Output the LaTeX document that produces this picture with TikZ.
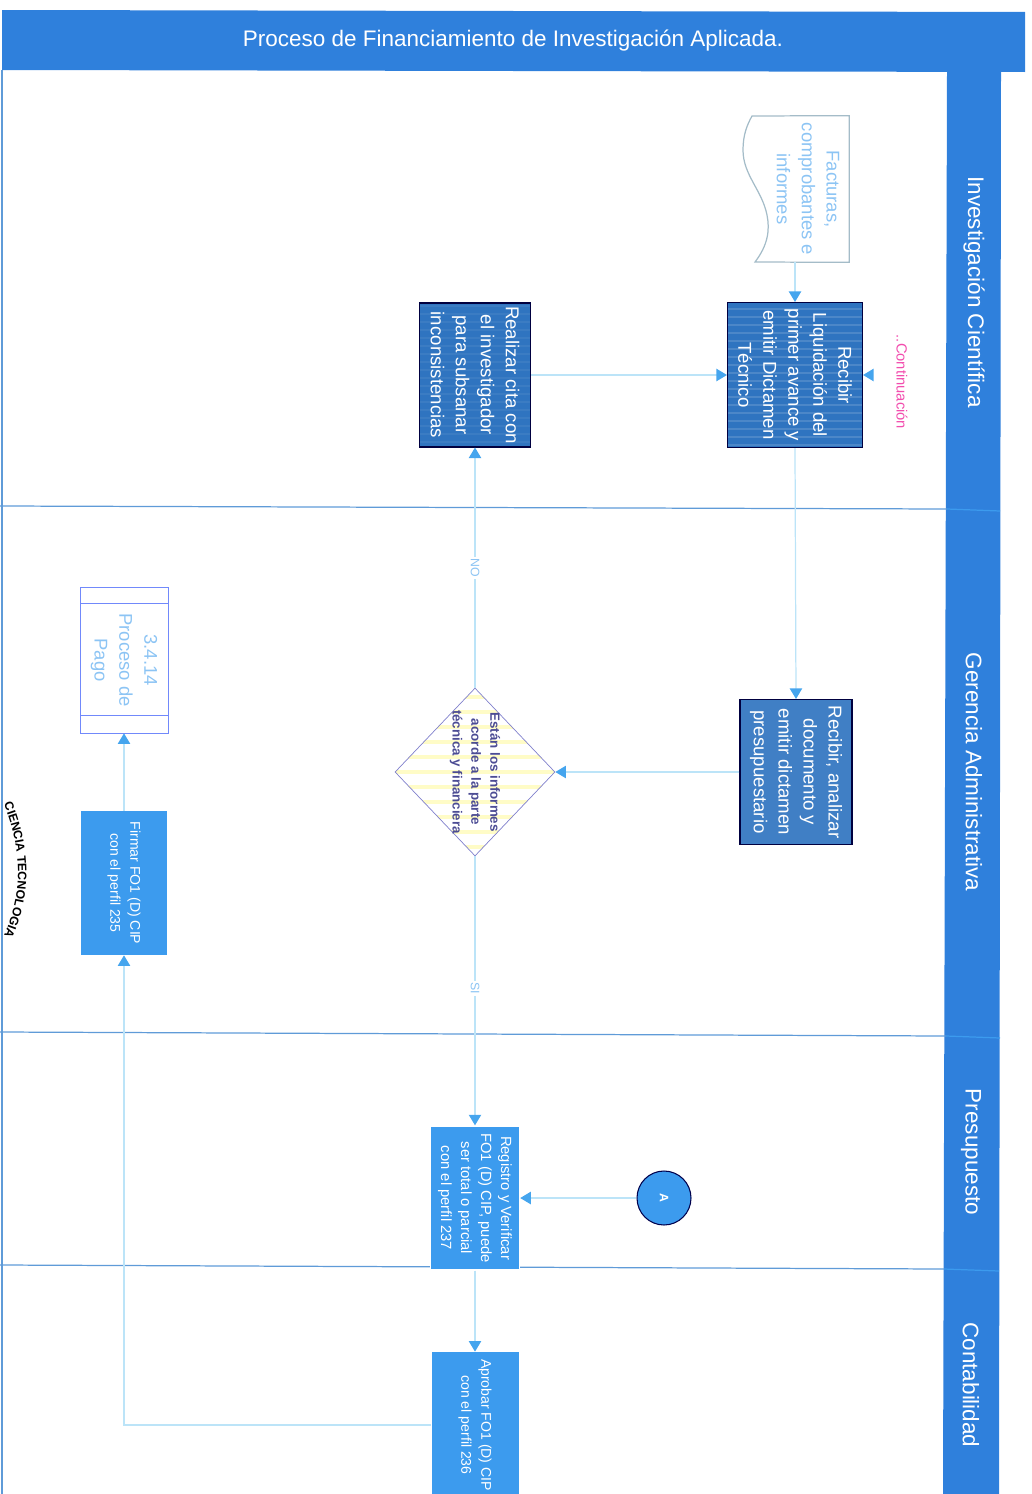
\documentclass[tikz,border=0pt]{standalone}
\usepackage{fontspec}
\setmainfont{Liberation Sans}
\usepackage{tikz}
\usetikzlibrary{shapes.geometric, arrows.meta, decorations.text}
\definecolor{banda}{HTML}{2F80DC}
\definecolor{azulcaja}{HTML}{3C9BEE}
\definecolor{cajaosc}{HTML}{2F74C0}
\definecolor{linea}{HTML}{BCE4F8}
\definecolor{punta}{HTML}{45A5EE}
\definecolor{carril}{HTML}{5F9BD8}
\definecolor{textoclaro}{HTML}{8CC4F4}

\begin{document}
\begin{tikzpicture}[
    x=0.02cm, y=-0.02cm,
    every node/.style={align=center, inner sep=0pt, rotate=-90},
    titulo/.style={rotate=90, text=white, font=\fontsize{12.8}{16}\selectfont},
    carriltxt/.style={text=white, font=\fontsize{12.8}{15}\selectfont},
    caja/.style={fill=azulcaja, text=white, font=\fontsize{8}{11.4}\selectfont},
    cajagrande/.style={fill=cajaosc, draw=black!75!blue, semithick, text=white, font=\fontsize{10.6}{14.2}\selectfont},
    rayas/.style={path picture={
        \foreach \k in {-30,...,30}
            \draw[white, opacity=#1, line width=1.2pt] (\k*0.16cm,-6cm) -- (\k*0.16cm,6cm);
    }},
    rayasdec/.style={path picture={
        \foreach \k in {-16,...,16}
            \draw[yellow!22, line width=2.5pt] (\k*0.3cm,-6cm) -- (\k*0.3cm,6cm);
    }},
    flujo/.style={draw=linea, line width=0.7pt, -{Triangle[length=6pt, width=7pt, color=punta]}},
    etiqueta/.style={fill=white, text=textoclaro, font=\fontsize{7}{8}\selectfont, inner sep=1pt},
    clara/.style={text=textoclaro, font=\fontsize{10.5}{14.2}\selectfont}
]
    \useasboundingbox (0,0) rectangle (1031,1494);

    % Banda y carriles
    \fill[banda] (2,10) -- (1025,12) -- (1025,72) -- (2,70) -- cycle;
    \fill[banda] (947,72) -- (1001,72) -- (999,1494) -- (943,1494) -- cycle;
    \draw[carril, line width=0.7pt] (2,70) -- (2,1494);
    \draw[carril, line width=0.7pt] (0,506) -- (947,509);
    \draw[carril, line width=0.7pt] (0,1032) -- (946,1036);
    \draw[carril, line width=0.7pt] (0,1265) -- (944,1269);
    \draw[azulcaja, line width=0.7pt] (947,509) -- (1000,511);
    \draw[azulcaja, line width=0.7pt] (946,1036) -- (1000,1038);
    \draw[azulcaja, line width=0.7pt] (944,1269) -- (999,1271);

    \node[titulo] (proceso) at (513,41) {Proceso de Financiamiento de Investigación Aplicada.};
    \node[carriltxt] (investigacion) at (974,292) {Investigación Científica};
    \node[carriltxt] (gerencia) at (974,772) {Gerencia Administrativa};
    \node[carriltxt] (presupuesto) at (971,1152) {Presupuesto};
    \node[carriltxt] (contabilidad) at (971,1385) {Contabilidad};

    % Cajas
    \node[clara, minimum width=146*0.02cm, minimum height=82*0.02cm] (facturas) at (808,189) {Facturas,\\comprobantes e\\informes};
    \draw[linea!60!gray, line width=0.7pt] (facturas.north west) -- (facturas.north east)
        -- (755,262) .. controls (768,245) and (770,230) .. (767,215)
        .. controls (762,190) and (743,175) .. (743,150)
        .. controls (743,135) and (747,125) .. (752,116) -- cycle;

    \node[cajagrande, rayas=0.14, minimum width=145*0.02cm, minimum height=135*0.02cm] (recibir) at (795,375) {Recibir\\Liquidación del\\primer avance y\\emitir Dictamen\\Técnico};
    \node[cajagrande, rayas=0.06, minimum width=144*0.02cm, minimum height=111*0.02cm] (realizar) at (475,375) {Realizar cita con\\el investigador\\para subsanar\\inconsistencias};
    \node[cajagrande, minimum width=145*0.02cm, minimum height=112*0.02cm, fill=white!8!cajaosc] (analizar) at (796,772) {Recibir, analizar\\documento y\\emitir dictamen\\presupuestario};
    \node[diamond, aspect=1, draw=black!40!blue!50, thin, rayasdec, minimum width=168*0.02cm, minimum height=160*0.02cm] (decision) at (475,772) {};
    \node[font=\bfseries\fontsize{7.6}{10.8}\selectfont, text=black!60!blue!70] (decisiontxt) at (475,772) {Están los informes\\acorde a la parte\\técnica y financiera};
    \node[clara, draw=linea!60!blue, thin, minimum width=146*0.02cm, minimum height=88*0.02cm] (pago) at (124,660) {3.4.14\\Proceso de\\Pago};
    \draw[linea!60!blue, thin] (81,603) -- (168,603) (81,715) -- (168,715);
    \node[caja, minimum width=144*0.02cm, minimum height=86*0.02cm] (firmar) at (124,883) {Firmar FO1 (D) CIP\\con el perfil 235};
    \node[caja, draw=white, thick, minimum width=144*0.02cm, minimum height=89*0.02cm, font=\fontsize{8.4}{11.4}\selectfont] (registro) at (475,1198) {Registro y Verificar\\FO1 (D) CIP, puede\\ser total o parcial\\con el perfil 237};
    \node[caja, minimum width=146*0.02cm, minimum height=87*0.02cm] (aprobar) at (475,1425) {Aprobar FO1 (D) CIP\\con el perfil 236};
    \node[circle, fill=azulcaja, draw=black!70!blue, semithick, minimum size=54*0.02cm, text=white, font=\bfseries\fontsize{7}{8}\selectfont] (conector) at (664,1198) {A};

    % Continuacion
    \node[text=magenta!70, font=\fontsize{8.4}{9}\selectfont] (continuacion) at (902,382) {..Continuación};
    \coordinate (llegada) at (879,375);

    % Flechas
    \draw[flujo] (facturas.east -| recibir) -- (recibir.west);
    \draw[flujo, draw=white] (llegada) -- (recibir.north);
    \draw[flujo] (realizar.north) -- (recibir.south);
    \draw[flujo] (recibir.east) -- (analizar.west);
    \draw[flujo] (analizar.south) -- (decision.north);
    \draw[flujo] (decision.west) -- node[etiqueta] (no) {NO} (realizar.east);
    \draw[flujo] (decision.east) -- node[pos=0.49, etiqueta] (si) {SI} (registro.west);
    \draw[flujo] (conector) -- (registro.north);
    \draw[flujo] (registro.east) -- (aprobar.west);
    \draw[flujo] (aprobar.south) -| (firmar.east);
    \draw[flujo] (firmar.west) -- (pago.east);

    % Sello
    \path[decorate, decoration={text along path, text align=center,
        text={|\bfseries\fontsize{7}{8}\selectfont|CIENCIA TECNOLOGIA}}]
        (0,795) .. controls (24,850) and (24,895) .. (0,945);
\end{tikzpicture}
\end{document}
